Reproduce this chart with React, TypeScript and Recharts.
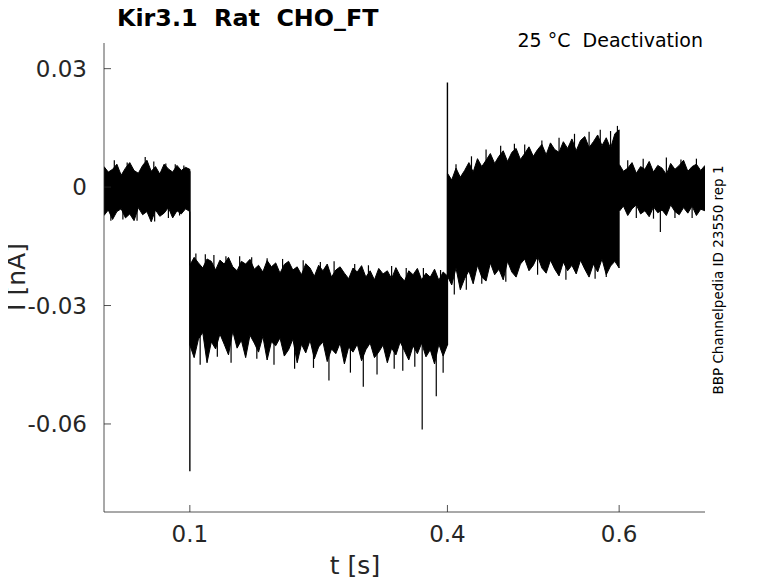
import React from "react";
import { ComposedChart, Area, Line, XAxis, YAxis } from "recharts";

// ---- data ----
const T_STEP = 0.005;

// envelope of the overlaid traces, per protocol step
const seg1Start = 0.0;
const seg1Hi = [0.0052, 0.0038, 0.0045, 0.0058, 0.003, 0.0048, 0.0062, 0.0042, 0.0035, 0.0055, 0.0068, 0.004, 0.0052, 0.0033, 0.0058, 0.0046, 0.0038, 0.0055, 0.0042, 0.005, 0.0045];
const seg1Lo = [-0.0072, -0.0058, -0.0082, -0.0062, -0.0055, -0.0078, -0.0068, -0.0085, -0.0052, -0.007, -0.0062, -0.0088, -0.0058, -0.0074, -0.0066, -0.0052, -0.0078, -0.006, -0.0068, -0.0055, -0.0062];

const seg2Start = 0.1;
const seg2Hi = [
  -0.0198, -0.0178, -0.0192, -0.0205, -0.0182, -0.0188, -0.021, -0.0185, -0.0195, -0.0178,
  -0.0202, -0.0212, -0.0188, -0.0195, -0.0183, -0.0208, -0.0198, -0.0215, -0.0186, -0.0202,
  -0.0192, -0.0218, -0.0196, -0.0188, -0.021, -0.0202, -0.0222, -0.0194, -0.0205, -0.0226,
  -0.0198, -0.0212, -0.0195, -0.0228, -0.021, -0.0202, -0.0218, -0.0232, -0.0205, -0.0215,
  -0.0199, -0.0228, -0.0212, -0.0235, -0.0206, -0.022, -0.0212, -0.0232, -0.0204, -0.0225,
  -0.0238, -0.0212, -0.0222, -0.0206, -0.0235, -0.0218, -0.0228, -0.0208, -0.0236, -0.0215,
  -0.0225,
];
const seg2Lo = [
  -0.04, -0.0432, -0.0385, -0.0368, -0.0445, -0.0392, -0.041, -0.0372, -0.0398, -0.0425,
  -0.0365, -0.0408, -0.0388, -0.0432, -0.0375, -0.0395, -0.0418, -0.0378, -0.0438, -0.0392,
  -0.0402, -0.0382, -0.0428, -0.0412, -0.0385, -0.0445, -0.0398, -0.042, -0.0388, -0.0435,
  -0.0405, -0.0392, -0.0442, -0.041, -0.0422, -0.0395, -0.0448, -0.0405, -0.0418, -0.0398,
  -0.044, -0.0412, -0.0395, -0.0432, -0.0418, -0.04, -0.0445, -0.0408, -0.0425, -0.0392,
  -0.0415, -0.0438, -0.0402, -0.0422, -0.0395, -0.043, -0.0412, -0.0448, -0.0398, -0.0428,
  -0.04,
];

const seg3Start = 0.4;
const seg3Hi = [
  0.0035, 0.0018, 0.0048, 0.0025, 0.0042, 0.0062, 0.0038, 0.0072, 0.0052, 0.0068,
  0.0085, 0.006, 0.0078, 0.0092, 0.0065, 0.0088, 0.0098, 0.007, 0.0085, 0.0102,
  0.0078, 0.0095, 0.0108, 0.0082, 0.0112, 0.0095, 0.0088, 0.0115, 0.0098, 0.0122,
  0.0092, 0.0118, 0.0128, 0.01, 0.0115, 0.0132, 0.0105, 0.0125, 0.0098, 0.0135,
  0.0145,
];
const seg3Lo = [
  -0.0225, -0.0248, -0.0205, -0.026, -0.0232, -0.0212, -0.0245, -0.0198, -0.0228, -0.0238,
  -0.0192, -0.0222, -0.0208, -0.0235, -0.0188, -0.0215, -0.0228, -0.0195, -0.0182, -0.0212,
  -0.0198, -0.0175, -0.0205, -0.0218, -0.0185, -0.0208, -0.0225, -0.019, -0.0212, -0.0198,
  -0.022, -0.0185, -0.0208, -0.0228, -0.0195, -0.0215, -0.0182, -0.0222, -0.02, -0.0188,
  -0.0205,
];

const seg4Start = 0.6;
const seg4Hi = [0.0058, 0.004, 0.0048, 0.0062, 0.0035, 0.0052, 0.0045, 0.0065, 0.0038, 0.0055, 0.0048, 0.0032, 0.006, 0.0045, 0.0055, 0.0068, 0.004, 0.0052, 0.0058, 0.0042, 0.0055];
const seg4Lo = [-0.0062, -0.0048, -0.0072, -0.0055, -0.0045, -0.0068, -0.006, -0.0075, -0.005, -0.0065, -0.0058, -0.0072, -0.0045, -0.0062, -0.007, -0.0052, -0.0066, -0.0048, -0.0072, -0.0056, -0.006];

// capacitive transients at the voltage steps
const transientT = [0.1, 0.4];
const transientFrom = [0.004, -0.04];
const transientTo = [-0.072, 0.0265];

// single-sample noise extremes sticking out of the envelope
const needleT = [
  0.012, 0.027, 0.048, 0.058, 0.072, 0.083, 0.093,
  0.008, 0.022, 0.0385, 0.059, 0.075, 0.088,
  0.107, 0.118, 0.128, 0.142, 0.158, 0.172, 0.19, 0.208, 0.232, 0.252, 0.268, 0.292, 0.308, 0.335, 0.352, 0.372, 0.392,
  0.112, 0.132, 0.148, 0.178, 0.198, 0.222, 0.244, 0.262, 0.287, 0.302, 0.318, 0.338, 0.348, 0.362, 0.3706, 0.387, 0.395,
  0.41, 0.428, 0.445, 0.462, 0.478, 0.49, 0.51, 0.53, 0.548, 0.565, 0.578, 0.59, 0.598,
  0.408, 0.422, 0.44, 0.468, 0.505, 0.538, 0.572, 0.585,
  0.61, 0.628, 0.655, 0.672, 0.69,
  0.62, 0.64, 0.648, 0.665, 0.685,
];
const needleV = [
  0.0068, 0.0062, 0.0076, 0.0065, 0.006, 0.0058, 0.0055,
  -0.0085, -0.0082, -0.0085, -0.0087, -0.0078, -0.0072,
  -0.0168, -0.017, -0.0172, -0.0175, -0.0175, -0.0178, -0.018, -0.0182, -0.0185, -0.019, -0.0188, -0.0195, -0.0198, -0.02, -0.0205, -0.0205, -0.021,
  -0.045, -0.043, -0.0445, -0.0435, -0.045, -0.046, -0.0458, -0.049, -0.047, -0.0506, -0.0475, -0.046, -0.0465, -0.0455, -0.0614, -0.053, -0.047,
  0.0058, 0.0078, 0.0095, 0.0105, 0.011, 0.0108, 0.0118, 0.0125, 0.0135, 0.014, 0.0145, 0.0142, 0.0155,
  -0.0272, -0.026, -0.0245, -0.024, -0.0222, -0.0235, -0.0232, -0.0228,
  0.0068, 0.0072, 0.0075, 0.007, 0.0072,
  -0.0078, -0.008, -0.0114, -0.0078, -0.0078,
];
// level the trace sits at in each step (needle base)
const stepStart = [0.0, 0.1, 0.4, 0.6];
const stepLevel = [-0.001, -0.03, -0.005, -0.0005];

const xTicks = [0.1, 0.4, 0.6];
const yTicks = [-0.06, -0.03, 0, 0.03];
const xTickLabels = ["0.1", "0.4", "0.6"];
const yTickLabels = ["-0.06", "-0.03", "0", "0.03"];

const titleText = "Kir3.1  Rat  CHO_FT";
const noteText = "25 \u00B0C  Deactivation";
const sideText = "BBP Channelpedia ID 23550 rep 1";
const xLabel = "t [s]";
const yLabel = "I [nA]";

// ---- build tables ----
function buildSegment(start: number, hi: number[], lo: number[]) {
  const n = Math.min(hi.length, lo.length);
  const out: { t: number; range: number[] }[] = [];
  for (let i = 0; i < n; i++) {
    out.push({ t: Math.round((start + i * T_STEP) * 10000) / 10000, range: [lo[i], hi[i]] });
  }
  return out;
}
const bandData = [
  ...buildSegment(seg1Start, seg1Hi, seg1Lo),
  ...buildSegment(seg2Start, seg2Hi, seg2Lo),
  ...buildSegment(seg3Start, seg3Hi, seg3Lo),
  ...buildSegment(seg4Start, seg4Hi, seg4Lo),
];
function levelAt(t: number) {
  let lv = stepLevel[0];
  for (let i = 0; i < stepStart.length; i++) if (t >= stepStart[i]) lv = stepLevel[i];
  return lv;
}
const transients = transientT.map((t, i) => [
  { t, v: transientFrom[i] },
  { t, v: transientTo[i] },
]);
const needles = needleT.map((t, i) => [
  { t, v: levelAt(t) },
  { t, v: needleV[i] },
]);

const FONT = "'DejaVu Sans', sans-serif";
const AX = "#262626";

const W = 770;
const H = 575;

const XTick = (props: any) => {
  const { x, y, payload } = props;
  const idx = xTicks.indexOf(payload.value);
  return (
    <g>
      <line x1={x} y1={y} x2={x} y2={y - 7} stroke={AX} strokeWidth={0.8} />
      <text x={x} y={y + 30} textAnchor="middle" fontSize={23} fill={AX} fontFamily={FONT}>
        {idx >= 0 ? xTickLabels[idx] : String(payload.value)}
      </text>
    </g>
  );
};

const YTick = (props: any) => {
  const { x, y, payload } = props;
  const idx = yTicks.indexOf(payload.value);
  return (
    <g>
      <line x1={x} y1={y} x2={x + 7} y2={y} stroke={AX} strokeWidth={0.8} />
      <text x={x - 17} y={y + 8} textAnchor="end" fontSize={23} fill={AX} fontFamily={FONT}>
        {idx >= 0 ? yTickLabels[idx] : String(payload.value)}
      </text>
    </g>
  );
};

export default function App() {
  return (
    <div style={{ position: "relative", width: W, height: H, background: "#fff" }}>
      <ComposedChart
        width={W}
        height={H}
        data={bandData}
        margin={{ top: 35, right: 73, bottom: 0, left: 0 }}
      >
        <XAxis
          type="number"
          dataKey="t"
          domain={[0, 0.7]}
          ticks={xTicks}
          allowDataOverflow
          height={71}
          tickSize={0}
          tickMargin={0}
          tickLine={false}
          tick={<XTick />}
          axisLine={{ stroke: AX, strokeWidth: 0.8 }}
          interval={0}
        />
        <YAxis
          type="number"
          domain={[-0.0823, 0.0365]}
          ticks={yTicks}
          allowDataOverflow
          width={96}
          tickSize={0}
          tickMargin={0}
          tickLine={false}
          tick={<YTick />}
          axisLine={{ stroke: AX, strokeWidth: 0.8 }}
          interval={0}
        />
        <Area
          type="linear"
          dataKey="range"
          stroke="#000"
          strokeWidth={1}
          fill="#000"
          fillOpacity={1}
          dot={false}
          activeDot={false}
          isAnimationActive={false}
        />
        {needles.map((d, i) => (
          <Line
            key={"n" + i}
            data={d}
            dataKey="v"
            type="linear"
            stroke="#000"
            strokeWidth={1.2}
            dot={false}
            activeDot={false}
            isAnimationActive={false}
          />
        ))}
        {transients.map((d, i) => (
          <Line
            key={"t" + i}
            data={d}
            dataKey="v"
            type="linear"
            stroke="#000"
            strokeWidth={1.4}
            dot={false}
            activeDot={false}
            isAnimationActive={false}
          />
        ))}
      </ComposedChart>
      <svg
        width={778}
        height={583}
        style={{ position: "absolute", left: -8, top: -8, pointerEvents: "none" }}
      >
        <text x={117} y={26} fontSize={23.8} fontWeight="bold" fill="#000" fontFamily={FONT} style={{ whiteSpace: "pre" }}>
          {titleText}
        </text>
        <text x={703} y={47} fontSize={19} textAnchor="end" fill="#000" fontFamily={FONT} style={{ whiteSpace: "pre" }}>
          {noteText}
        </text>
        <text
          transform="translate(722.5, 280) rotate(-90)"
          fontSize={13.5}
          textAnchor="middle"
          fill="#000"
          fontFamily={FONT}
        >
          {sideText}
        </text>
        <text
          transform="translate(25, 277) rotate(-90)"
          fontSize={25}
          textAnchor="middle"
          fill={AX}
          fontFamily={FONT}
        >
          {yLabel}
        </text>
        <text x={355} y={574} fontSize={25} textAnchor="middle" fill={AX} fontFamily={FONT}>
          {xLabel}
        </text>
      </svg>
    </div>
  );
}
